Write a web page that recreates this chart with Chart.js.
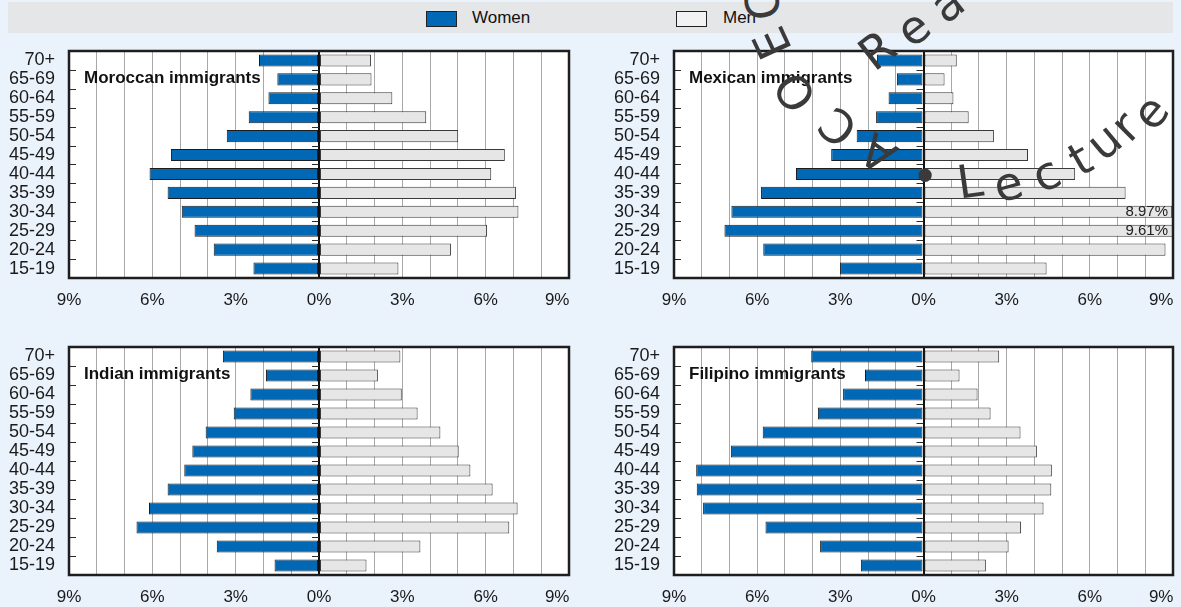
<!DOCTYPE html>
<html>
<head>
<meta charset="utf-8">
<script src="https://cdn.jsdelivr.net/npm/chart.js@4.4.1/dist/chart.umd.min.js"></script>
<style>
body { margin: 0; width: 1181px; height: 607px; overflow: hidden; background: #eaf2fc; position: relative; font-family: "Liberation Sans", Arial, sans-serif; }
#legend { position: absolute; left: 8px; top: 2px; width: 1165px; height: 31px; background: #e5e6e8; }
.sw { position: absolute; top: 9px; width: 29px; height: 14px; border: 1px solid #222; }
.lt { position: absolute; top: 6px; font-size: 17px; color: #111; }
.panel { position: absolute; }
.wm { position: absolute; font-family: "DejaVu Sans"; font-size: 46px; line-height: 1; color: #3a3a3a; pointer-events: none; }
</style>
</head>
<body>
<div id="legend">
  <div class="sw" style="left:418px;background:#0068b4"></div>
  <div class="lt" style="left:464px">Women</div>
  <div class="sw" style="left:668px;background:#f2f2f2"></div>
  <div class="lt" style="left:715px">Men</div>
</div>
<canvas id="morocco" class="panel" style="left:0;top:40px;width:600px;height:285px" width="600" height="285"></canvas>
<canvas id="mexico" class="panel" style="left:600px;top:40px;width:600px;height:285px" width="600" height="285"></canvas>
<canvas id="india" class="panel" style="left:0;top:335px;width:600px;height:272px" width="600" height="272"></canvas>
<canvas id="philippines" class="panel" style="left:600px;top:335px;width:600px;height:272px" width="600" height="272"></canvas>
<div id="wm"></div>
<script>
// age groups, top to bottom
const ageGroups = ['70+', '65-69', '60-64', '55-59', '50-54', '45-49', '40-44', '35-39', '30-34', '25-29', '20-24', '15-19'];

// share of population, %
const moroccoWomen = [2.16, 1.50, 1.82, 2.53, 3.32, 5.33, 6.10, 5.45, 4.94, 4.48, 3.79, 2.36];
const moroccoMen = [1.87, 1.89, 2.64, 3.86, 5.01, 6.69, 6.20, 7.09, 7.18, 6.05, 4.75, 2.86];
const mexicoWomen = [1.68, 0.96, 1.26, 1.71, 2.41, 3.33, 4.60, 5.86, 6.93, 7.18, 5.78, 3.01];
const mexicoMen = [1.20, 0.76, 1.08, 1.63, 2.54, 3.77, 5.47, 7.29, 8.97, 9.61, 8.73, 4.44];
const indiaWomen = [3.46, 1.91, 2.47, 3.07, 4.08, 4.56, 4.85, 5.45, 6.12, 6.57, 3.68, 1.60];
const indiaMen = [2.93, 2.12, 2.98, 3.55, 4.37, 5.03, 5.45, 6.25, 7.15, 6.85, 3.65, 1.71];
const philippinesWomen = [4.05, 2.11, 2.90, 3.81, 5.80, 6.95, 8.20, 8.18, 7.95, 5.70, 3.73, 2.26];
const philippinesMen = [2.73, 1.30, 1.95, 2.42, 3.50, 4.09, 4.63, 4.61, 4.33, 3.52, 3.07, 2.25];

const axisMax = 9;

// watermark glyphs: char, x, y, rotation
const wmGlyphs = [
    ['C', 763, 4, -100], ['E', 772, 43, -115], ['O', 795, 92, -125], ['C', 838, 127, -140], ['A', 878, 153, -145],
    ['R', 877, 50, -38], ['e', 913, 28, -38], ['a', 947, 4, -38],
    ['\u2022', 925, 177, 0],
    ['L', 970, 181, -8], ['e', 1008, 184, -15], ['c', 1046, 174, -25], ['t', 1080, 159, -30],
    ['u', 1104, 141, -40], ['r', 1125, 126, -45], ['e', 1150, 112, -50]
];

const wm = document.getElementById('wm');
wmGlyphs.forEach(g => {
    const s = document.createElement('span');
    s.className = 'wm';
    s.textContent = g[0];
    s.style.left = g[1] + 'px';
    s.style.top = g[2] + 'px';
    s.style.transform = 'translate(-50%,-50%) rotate(' + g[3] + 'deg)';
    wm.appendChild(s);
});

// white plot area, frame, small ticks, panel title, clipped-bar labels
const panelDecor = {
    id: 'panelDecor',
    beforeDraw(chart) {
        const a = chart.chartArea;
        chart.ctx.save();
        chart.ctx.fillStyle = '#fff';
        chart.ctx.fillRect(a.left, a.top, a.right - a.left, a.bottom - a.top);
        chart.ctx.restore();
    },
    afterDatasetsDraw(chart, args, opts) {
        const ctx = chart.ctx;
        const a = chart.chartArea;
        const x = chart.scales.x;
        const y = chart.scales.y;
        const zero = x.getPixelForValue(0);
        ctx.save();
        ctx.strokeStyle = '#2a2a2a';
        ctx.lineWidth = 1;
        for (let i = 0; i < ageGroups.length - 1; i++) {
            const yy = Math.round((y.getPixelForValue(i) + y.getPixelForValue(i + 1)) / 2) + 0.5;
            ctx.beginPath();
            ctx.moveTo(a.left, yy); ctx.lineTo(a.left + 7, yy);
            ctx.moveTo(zero - 7, yy); ctx.lineTo(zero, yy);
            ctx.stroke();
        }
        ctx.lineWidth = 2.5;
        ctx.strokeStyle = '#1e1e1e';
        ctx.strokeRect(a.left, a.top, a.right - a.left, a.bottom - a.top);

        ctx.fillStyle = '#111';
        ctx.font = 'bold 17px "Liberation Sans", Arial, sans-serif';
        ctx.textBaseline = 'middle';
        ctx.textAlign = 'left';
        ctx.fillText(opts.title, a.left + 15, y.getPixelForValue(1) - 1);

        ctx.font = '15px "Liberation Sans", Arial, sans-serif';
        ctx.textAlign = 'right';
        ctx.fillStyle = '#222';
        chart.data.datasets[1].data.forEach((v, i) => {
            if (v >= axisMax - 0.1) {
                ctx.fillText(v.toFixed(2) + '%', a.right - 5, y.getPixelForValue(i));
            }
        });
        ctx.restore();
    }
};

function makePanel(id, title, women, men, geom) {
    return new Chart(document.getElementById(id), {
        type: 'bar',
        data: {
            labels: ageGroups,
            datasets: [{
                label: 'Women',
                data: women.map(v => -v),
                backgroundColor: '#0068b4',
                borderColor: '#1c1c1c',
                borderWidth: 1,
                borderSkipped: false
            }, {
                label: 'Men',
                data: men,
                backgroundColor: '#e6e6e6',
                borderColor: '#3a3a3a',
                borderWidth: 1,
                borderSkipped: false
            }]
        },
        options: {
            indexAxis: 'y',
            responsive: false,
            animation: false,
            barPercentage: 0.64,
            categoryPercentage: 1,
            layout: { padding: { top: geom.padTop, right: geom.padRight, left: 0, bottom: 0 } },
            scales: {
                x: {
                    stacked: true,
                    min: -axisMax,
                    max: axisMax,
                    afterFit: s => { s.height = geom.xHeight; },
                    border: { display: false },
                    grid: {
                        drawTicks: true,
                        tickLength: 12,
                        tickColor: 'rgba(0,0,0,0)',
                        color: c => c.tick && c.tick.value === 0 ? '#111' : '#a8a8a8',
                        lineWidth: c => c.tick && c.tick.value === 0 ? 2 : 1
                    },
                    ticks: {
                        stepSize: 1,
                        autoSkip: false,
                        maxRotation: 0,
                        padding: 0,
                        color: '#1a1a1a',
                        font: { family: '"Liberation Sans", Arial, sans-serif', size: 17 },
                        callback: v => {
                            if (v % 3 !== 0) return '';
                            const t = Math.abs(v) + '%';
                            return v === axisMax ? t + '     ' : t;
                        }
                    }
                },
                y: {
                    stacked: true,
                    afterFit: s => { s.width = geom.yWidth; },
                    border: { display: false },
                    grid: {
                        display: true,
                        drawOnChartArea: false,
                        drawTicks: true,
                        tickLength: 14,
                        tickColor: 'rgba(0,0,0,0)'
                    },
                    ticks: {
                        autoSkip: false,
                        padding: 0,
                        color: '#1a1a1a',
                        font: { family: '"Liberation Sans", Arial, sans-serif', size: 18 }
                    }
                }
            },
            plugins: {
                legend: { display: false },
                tooltip: { enabled: false },
                panelDecor: { title: title }
            }
        },
        plugins: [panelDecor]
    });
}

makePanel('morocco', 'Moroccan immigrants', moroccoWomen, moroccoMen, { yWidth: 69, xHeight: 47, padTop: 11, padRight: 31 });
makePanel('mexico', 'Mexican immigrants', mexicoWomen, mexicoMen, { yWidth: 74, xHeight: 47, padTop: 11, padRight: 27 });
makePanel('india', 'Indian immigrants', indiaWomen, indiaMen, { yWidth: 69, xHeight: 32, padTop: 12, padRight: 31 });
makePanel('philippines', 'Filipino immigrants', philippinesWomen, philippinesMen, { yWidth: 74, xHeight: 32, padTop: 12, padRight: 27 });
</script>
</body>
</html>
